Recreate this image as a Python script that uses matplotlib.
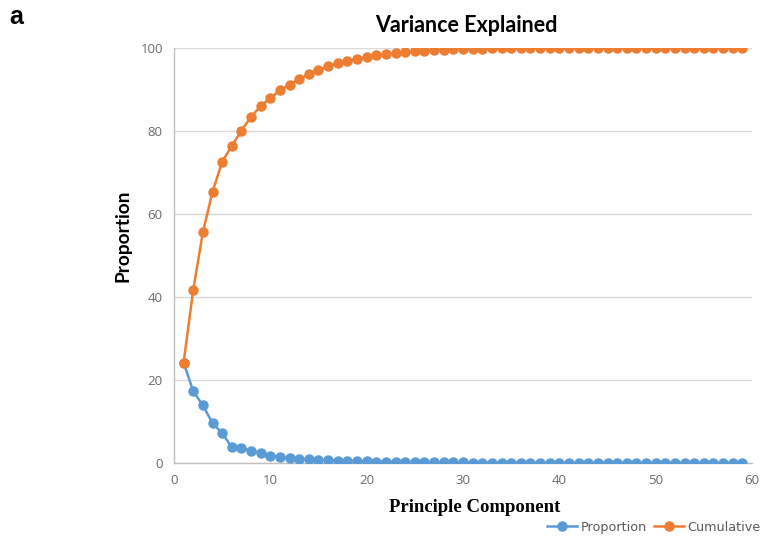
import matplotlib
matplotlib.use("Agg")
import matplotlib.pyplot as plt
import numpy as np

components = list(range(1, 60))
proportion = [24.2, 17.3, 13.9, 9.6, 7.2, 3.8, 3.6, 3.0, 2.4, 1.8,
              1.5, 1.2, 1.0, 0.9, 0.8, 0.7, 0.6, 0.5, 0.45, 0.4,
              0.35, 0.3, 0.28, 0.25, 0.22, 0.2, 0.18, 0.15, 0.13, 0.12,
              0.1, 0.1, 0.08, 0.08, 0.07, 0.06, 0.06, 0.05, 0.05, 0.05,
              0.04, 0.04, 0.04, 0.03, 0.03, 0.03, 0.03, 0.02, 0.02, 0.02,
              0.02, 0.02, 0.01, 0.01, 0.01, 0.01, 0.01, 0.01, 0.01]
cumulative = [24.2, 41.7, 55.6, 65.3, 72.6, 76.4, 80.1, 83.4, 86.0, 88.0,
              89.8, 91.2, 92.5, 93.7, 94.7, 95.6, 96.3, 96.9, 97.4, 97.8,
              98.2, 98.5, 98.8, 99.0, 99.2, 99.4, 99.5, 99.6, 99.7, 99.75,
              99.8, 99.85, 99.9, 99.9, 99.95, 99.95, 99.97, 99.98, 99.98, 99.99,
              99.99, 100, 100, 100, 100, 100, 100, 100, 100, 100,
              100, 100, 100, 100, 100, 100, 100, 100, 100]
x_ticks = [0, 10, 20, 30, 40, 50, 60]
y_ticks = [0, 20, 40, 60, 80, 100]

blue = "#5B9BD5"
orange = "#ED7D31"

W, H = 763, 536
fig = plt.figure(figsize=(W / 100, H / 100), dpi=100)
ax = fig.add_axes([0.228, 0.1362, 0.7576, 0.7742])

ax.plot(components, proportion, color=blue, marker="o", markersize=6.5,
        linewidth=1.8, label="Proportion", zorder=3)
ax.plot(components, cumulative, color=orange, marker="o", markersize=6.5,
        linewidth=1.8, label="Cumulative", zorder=4)

ax.set_xlim(0, 60)
ax.set_ylim(0, 100)
ax.set_xticks(x_ticks)
ax.set_yticks(y_ticks)
ax.grid(axis="y", color="#D9D9D9", linewidth=1)
ax.set_axisbelow(True)
for s in ["top", "right"]:
    ax.spines[s].set_visible(False)
for s in ["left", "bottom"]:
    ax.spines[s].set_color("#BFBFBF")
    ax.spines[s].set_linewidth(1)
ax.tick_params(length=0, labelsize=9.5, labelcolor="#6b6b6b", pad=8)
for lab in ax.get_xticklabels() + ax.get_yticklabels():
    lab.set_family("Open Sans")

fig.text(466 / W, 1 - 25 / H, "Variance Explained", fontsize=15.5,
         fontweight="bold", family="Lato", ha="center", va="center")
fig.text(475 / W, 1 - 508 / H, "Principle Component", fontsize=13.5,
         fontweight="bold", family="Liberation Serif", ha="center", va="center")
fig.text(123 / W, 1 - 236 / H, "Proportion", fontsize=13.8,
         fontweight="bold", family="Lato", ha="center", va="center",
         rotation=90)

fig.legend(loc="lower right", bbox_to_anchor=(1.012, -0.017), ncol=2,
           frameon=False, handlelength=2.35, columnspacing=0.6,
           handletextpad=0.25, labelcolor="#595959",
           prop={"family": "DejaVu Sans", "size": 9.2})

fig.text(0.012, 0.955, "a", fontsize=18, fontweight="bold",
         family="Liberation Sans")

fig.savefig("out.png", dpi=100)
